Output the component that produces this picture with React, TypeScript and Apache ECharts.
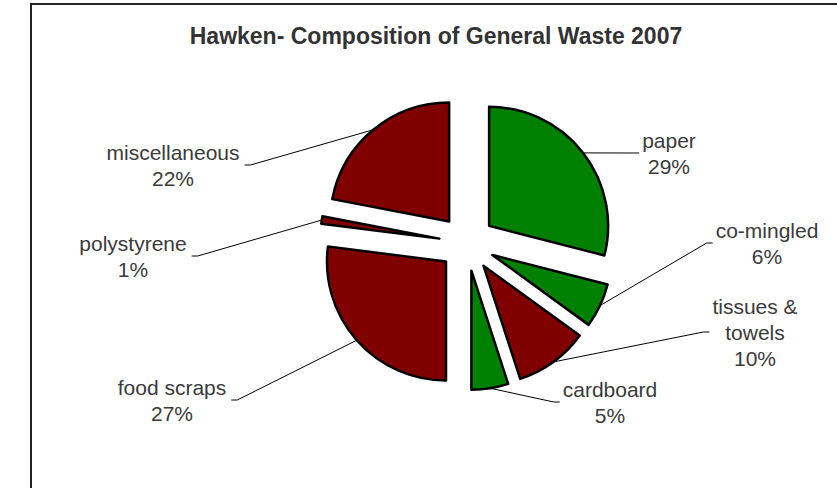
import React, { useEffect, useRef } from 'react';
import * as echarts from 'echarts';

// ---- data ----
const categories = [
  'paper',
  'co-mingled',
  'tissues & towels',
  'cardboard',
  'food scraps',
  'polystyrene',
  'miscellaneous',
];
const shares = [29, 6, 10, 5, 27, 1, 22];
const sliceColors = ['#008000', '#008000', '#800000', '#008000', '#800000', '#800000', '#800000'];
const titleText = 'Hawken- Composition of General Waste 2007';

// ---- layout (pixels) ----
const W = 837;
const H = 488;
const CX = 467;
const CY = 243;
const R = 119;
const EXPLODE = 28;
// label block centres relative to the pie centre
const labelOffsets: number[][] = [
  [202, -90],
  [300, 0],
  [288, 89],
  [143, 159],
  [-295, 157],
  [-334, 13],
  [-294, -78],
];
const FONT = '"Liberation Sans", Arial, sans-serif';

export default function App() {
  const ref = useRef<HTMLDivElement>(null);

  useEffect(() => {
    if (!ref.current) return;
    const chart = echarts.init(ref.current, null, { renderer: 'svg' });
    const total = shares.reduce((a, b) => a + b, 0);

    chart.setOption({
      animation: false,
      backgroundColor: '#ffffff',
      title: {
        text: titleText,
        left: 431,
        top: 19,
        textAlign: 'center',
        textStyle: { fontFamily: FONT, fontSize: 23, fontWeight: 'bold', color: '#333333' },
      },
      graphic: [
        {
          type: 'rect',
          silent: true,
          z: -10,
          shape: { x: 31, y: 4, width: 860, height: 540 },
          style: { fill: 'none', stroke: '#222222', lineWidth: 2 },
        },
      ],
      series: [
        {
          // exploded slices
          type: 'pie',
          center: [CX, CY],
          radius: R,
          startAngle: 90,
          clockwise: true,
          selectedMode: 'multiple',
          selectedOffset: EXPLODE,
          silent: true,
          data: categories.map((name, i) => ({
            name,
            value: shares[i],
            selected: true,
            itemStyle: { color: sliceColors[i] },
          })),
          itemStyle: { borderColor: '#000000', borderWidth: 2.5 },
          label: { show: false },
          labelLine: { show: false },
          emphasis: { disabled: true },
          select: { itemStyle: { borderColor: '#000000', borderWidth: 2.5 } },
        },
        {
          // labels with leader lines (same data, invisible slices)
          type: 'pie',
          center: [CX, CY],
          radius: R,
          startAngle: 90,
          clockwise: true,
          silent: true,
          avoidLabelOverlap: false,
          z: 5,
          data: categories.map((name, i) => ({ name, value: shares[i] })),
          itemStyle: { color: 'rgba(0,0,0,0)', borderWidth: 0 },
          label: {
            show: true,
            formatter: (p: any) => `${String(p.name).replace('& ', '&\n')}\n${p.value}%`,
            fontFamily: FONT,
            fontSize: 21,
            lineHeight: 26,
            color: '#3a3a3a',
            align: 'center',
          },
          labelLine: { show: true, lineStyle: { color: '#000000', width: 1 } },
          emphasis: { disabled: true },
          labelLayout: (params: any) => {
            const i = params.dataIndex;
            const before = shares.slice(0, i).reduce((a, b) => a + b, 0);
            const mid = ((before + shares[i] / 2) / total) * Math.PI * 2;
            const dx = Math.sin(mid);
            const dy = -Math.cos(mid);
            const sx = CX + (R + EXPLODE) * dx;
            const sy = CY + (R + EXPLODE) * dy;
            const lx = CX + labelOffsets[i][0];
            const ly = CY + labelOffsets[i][1];
            const w = params.labelRect.width;
            const right = labelOffsets[i][0] > 0;
            const ex = right ? lx - w / 2 - 3 : lx + w / 2 + 5;
            const mx = right ? ex - 6 : ex + 6;
            return {
              x: lx,
              y: ly,
              align: 'center',
              verticalAlign: 'middle',
              labelLinePoints: [
                [sx, sy],
                [mx, ly],
                [ex, ly],
              ],
            };
          },
        },
      ],
    });

    return () => chart.dispose();
  }, []);

  return (
    <div
      ref={ref}
      style={{ position: 'fixed', left: 0, top: 0, width: W, height: H, background: '#fff' }}
    />
  );
}
